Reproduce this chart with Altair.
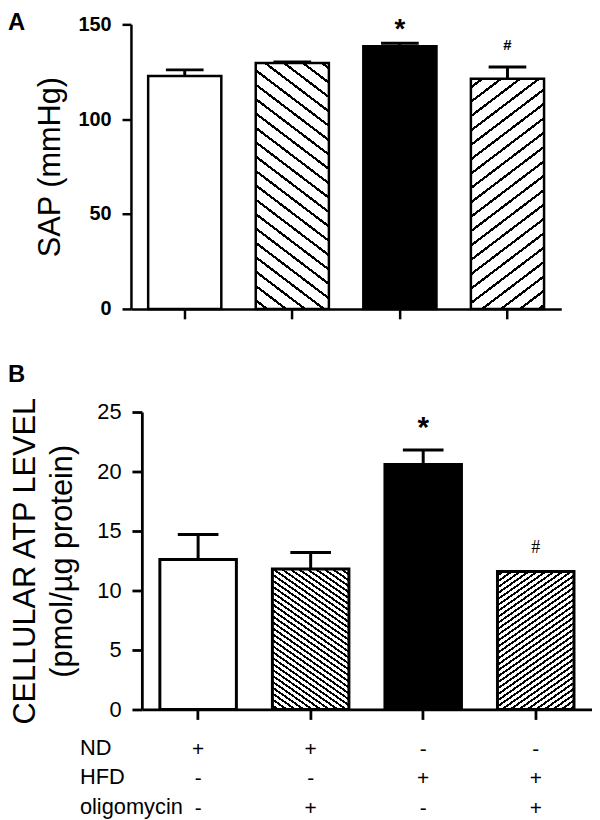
import altair as alt
import pandas as pd

# ---------------- data ----------------
groups = ["ND", "ND + oligomycin", "HFD", "HFD + oligomycin"]
nd_row = ["+", "+", "-", "-"]
hfd_row = ["-", "-", "+", "+"]
oligo_row = ["-", "+", "-", "+"]
row_names = ["ND", "HFD", "oligomycin"]

sap_mean = [122.8, 129.6, 138.5, 121.3]
sap_sem = [3.2, 0.6, 1.5, 6.2]
sap_marks = ["", "", "*", "#"]

atp_mean = [12.6, 11.8, 20.6, 11.6]
atp_sem = [2.1, 1.4, 1.2, 0.0]
atp_marks = ["", "", "*", "#"]

bar_style = ["white", "back", "black", "fwd"]

FONT = "Liberation Sans"
codes = [",".join(t) for t in zip(nd_row, hfd_row, oligo_row)]

# ---------------- layout ----------------
W_A, H_A, MAX_A = 434, 287, 150
SHIFT_B = 11
W_B, H_B, MAX_B = 454, 300, 25
P_IN, P_OUT = 0.32, 0.16


def frame(mean, sem, marks):
    return pd.DataFrame({
        "group": groups,
        "code": codes,
        "mean": mean,
        "top": [m + s for m, s in zip(mean, sem)],
        "sem": sem,
        "mark": marks,
        "style": bar_style,
    })


def hatch(w, h, m, period, frac, direction):
    S = m * w + h
    k = S / (m * m * w * w + h * h)
    if direction == "back":
        x1, y1, x2, y2 = 0, 1, k * m * w, 1 - k * h
    else:
        x1, y1, x2, y2 = 0, 0, k * m * w, k * h
    stops = [alt.GradientStop(color="white", offset=0)]
    s = period * 0.5
    while s < S:
        a = s / S
        b = min((s + frac * period) / S, 1.0)
        stops += [alt.GradientStop(color="white", offset=a),
                  alt.GradientStop(color="black", offset=a),
                  alt.GradientStop(color="black", offset=b),
                  alt.GradientStop(color="white", offset=b)]
        s += period
    stops.append(alt.GradientStop(color="white", offset=1))
    return alt.LinearGradient(gradient="linear", stops=stops,
                              x1=x1, y1=y1, x2=x2, y2=y2)


def panel(df, width, height, ymax, shift, xaxis, yaxis, stroke_w, m, period,
          frac, cap_size, star, hashm, title, title_dy):
    step = width / (4 - P_IN + 2 * P_OUT)
    bw = step * (1 - P_IN)
    x = alt.X("code:N", sort=codes,
              scale=alt.Scale(paddingInner=P_IN, paddingOuter=P_OUT,
                              range=[shift, shift + width]),
              axis=xaxis)
    y = alt.Y("mean:Q", scale=alt.Scale(domain=[0, ymax], nice=False),
              axis=yaxis)
    base = alt.Chart(df)
    layers = []
    for i, st in enumerate(bar_style):
        h = df["mean"][i] / ymax * height
        if st in ("white", "black"):
            fill = st
        else:
            fill = hatch(bw, h, m, period, frac, st)
        layers.append(
            base.transform_filter(alt.datum.group == groups[i])
            .mark_bar(fill=fill, stroke="black", strokeWidth=stroke_w)
            .encode(x=x, y=y)
        )
    layers.append(
        base.transform_filter(alt.datum.sem > 0)
        .mark_rule(color="black", strokeWidth=3)
        .encode(x=x, y=y, y2="top:Q")
    )
    layers.append(
        base.transform_filter(alt.datum.sem > 0)
        .mark_tick(color="black", thickness=3, size=cap_size, opacity=1)
        .encode(x=x, y=alt.Y("top:Q"))
    )
    layers.append(
        base.transform_filter(alt.datum.mark == "*")
        .mark_text(font=FONT, color="black", baseline="alphabetic", **star)
        .encode(x=x, y=alt.Y("top:Q"), text="mark:N")
    )
    layers.append(
        base.transform_filter(alt.datum.mark == "#")
        .mark_text(color="black", baseline="alphabetic", **hashm)
        .encode(x=x, y=alt.Y("top:Q"), text="mark:N")
    )
    return alt.layer(*layers).properties(
        width=width + shift, height=height,
        title=alt.Title(title, anchor="start", frame="group", dx=-124,
                        dy=title_dy, offset=0, fontSize=24,
                        fontWeight="bold", font=FONT, color="black"),
    )


axis_common = dict(domainColor="black", tickColor="black", labelColor="black",
                   titleColor="black", grid=False, labelFont=FONT,
                   titleFont=FONT, titleFontWeight="normal")

xaxis_A = alt.Axis(labels=False, title=None, tickSize=10, tickWidth=2.5,
                   domainWidth=2.5, **axis_common)
yaxis_A = alt.Axis(values=[0, 50, 100, 150], title="SAP (mmHg)",
                   titleFontSize=31, titlePadding=12, labelFontSize=20,
                   labelFontWeight="bold", labelPadding=11, tickSize=9,
                   tickWidth=2.5, domainWidth=2.5, **axis_common)

xaxis_B = alt.Axis(title=row_names, labelExpr="split(datum.value, ',')",
                   labelFontSize=21, labelLineHeight=30, labelPadding=19,
                   labelAngle=0, tickSize=10, tickWidth=2.8, domainWidth=2.8,
                   titleX=-52, titleY=45, titleAlign="left",
                   titleBaseline="alphabetic", titleFontSize=22,
                   titleLineHeight=30, **axis_common)
yaxis_B = alt.Axis(values=[0, 5, 10, 15, 20, 25],
                   title=["CELLULAR ATP LEVEL", "(pmol/\u00b5g protein)"],
                   titleFontSize=31, titleLineHeight=38, titlePadding=18,
                   labelFontSize=22, labelPadding=11, tickSize=10,
                   tickWidth=2.8, domainWidth=2.8, offset=-SHIFT_B,
                   **axis_common)

chart_A = panel(frame(sap_mean, sap_sem, sap_marks), W_A, H_A, MAX_A, 0,
                xaxis_A, yaxis_A, 2.5, 0.76, 14.5, 0.2, 38,
                dict(fontSize=28, fontWeight="bold", dy=-5),
                dict(fontSize=15, fontWeight="bold", dy=-17, font=FONT),
                "A", 21)

chart_B = panel(frame(atp_mean, atp_sem, atp_marks), W_B, H_B, MAX_B, SHIFT_B,
                xaxis_B, yaxis_B, 3, 0.7, 6.0, 0.4, 41,
                dict(fontSize=30, fontWeight="bold", dy=-13),
                dict(fontSize=18, fontWeight="normal", dy=-19,
                     font="Liberation Serif"),
                "B", -9)

chart = alt.concat(chart_A, chart_B, columns=1, spacing=43, align="none",
                   padding=0).configure_view(strokeWidth=0)

chart.save("out.html", embed_options={"renderer": "svg", "actions": False})
